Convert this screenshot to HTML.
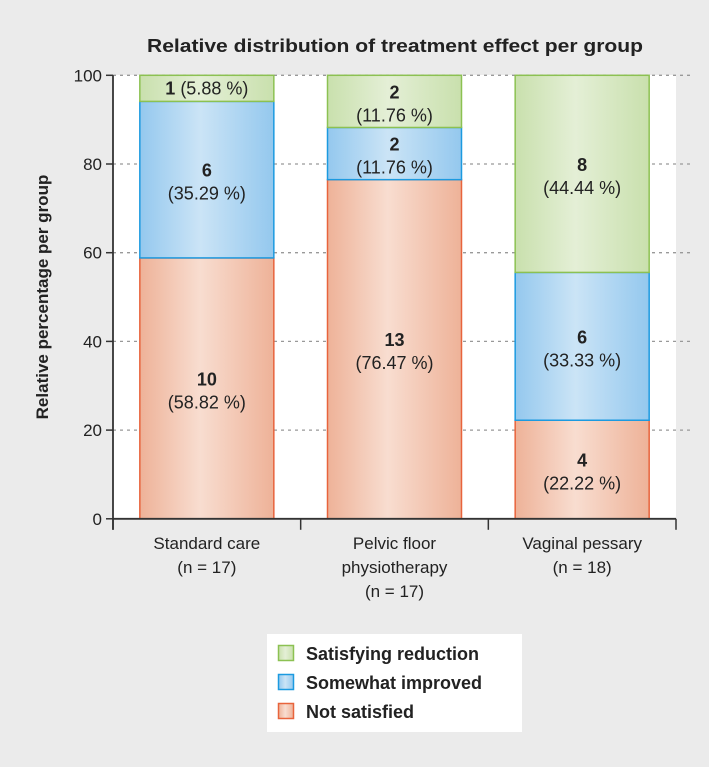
<!DOCTYPE html>
<html><head><meta charset="utf-8"><style>
html,body{margin:0;padding:0;background:#ebebeb;}
svg{display:block;font-family:"Liberation Sans",sans-serif;}
</style></head><body>
<svg id="chart" width="709" height="767" viewBox="0 0 709 767">
<defs>
<linearGradient id="gG" x1="0" x2="1"><stop offset="0" stop-color="#c9e0ad"/><stop offset="0.45" stop-color="#e4efd6"/><stop offset="1" stop-color="#c9e0ad"/></linearGradient>
<linearGradient id="gB" x1="0" x2="1"><stop offset="0" stop-color="#94c8ee"/><stop offset="0.45" stop-color="#cbe4f6"/><stop offset="1" stop-color="#94c8ee"/></linearGradient>
<linearGradient id="gO" x1="0" x2="1"><stop offset="0" stop-color="#eeb298"/><stop offset="0.45" stop-color="#f8ddd0"/><stop offset="1" stop-color="#eeb298"/></linearGradient>
</defs>
<rect x="113" y="75" width="563" height="444" fill="#fff"/>
<text x="147" y="52" textLength="496" lengthAdjust="spacingAndGlyphs" font-size="18" font-weight="bold" fill="#222">Relative distribution of treatment effect per group</text>
<text transform="translate(48,297) rotate(-90)" text-anchor="middle" font-size="17" font-weight="bold" fill="#222">Relative percentage per group</text>
<g id="grid"></g><g id="bars"></g><g id="axes"></g>
<rect x="267" y="634" width="255" height="98" fill="#fff"/>
<g><rect x="278.5" y="645.5" width="15" height="15" fill="url(#gG)" stroke="#8cc152" stroke-width="1.5"/><text x="306" y="660" font-size="18" font-weight="bold" fill="#222">Satisfying reduction</text></g>
<g><rect x="278.5" y="674.5" width="15" height="15" fill="url(#gB)" stroke="#1c9ae0" stroke-width="1.5"/><text x="306" y="689" font-size="18" font-weight="bold" fill="#222">Somewhat improved</text></g>
<g><rect x="278.5" y="703.5" width="15" height="15" fill="url(#gO)" stroke="#e8643c" stroke-width="1.5"/><text x="306" y="718" font-size="18" font-weight="bold" fill="#222">Not satisfied</text></g>
</svg>
<script>
const categories=[["Standard care","(n = 17)"],["Pelvic floor","physiotherapy","(n = 17)"],["Vaginal pessary","(n = 18)"]];
const notSatisfied=[10,13,4];
const somewhat=[6,2,6];
const satisfying=[1,2,8];
const notSatisfiedPct=["58.82","76.47","22.22"];
const somewhatPct=["35.29","11.76","33.33"];
const satisfyingPct=["5.88","11.76","44.44"];
const yTicks=[0,20,40,60,80,100];

const NS="http://www.w3.org/2000/svg";
const X0=113,X1=676,Y0=518.8,Y100=75.3;
const y=v=>Y0-(Y0-Y100)*v/100;
const bw=(X1-X0)/categories.length;
const barW=134;
const bx=i=>X0+bw*i+(bw-barW)/2;
function mk(tag,attrs,parent){const e=document.createElementNS(NS,tag);for(const k in attrs)e.setAttribute(k,attrs[k]);parent.appendChild(e);return e;}
const grid=document.getElementById('grid'),bars=document.getElementById('bars'),axes=document.getElementById('axes');
yTicks.forEach(t=>{
 if(t>0){const l=mk('line',{x1:X0,x2:X1+14,y1:y(t),y2:y(t),stroke:'#999','stroke-width':1.3,'stroke-dasharray':'3,4'},grid);
 
 }
 const tk=mk('line',{x1:X0-7,x2:X0,y1:y(t),y2:y(t),stroke:'#333','stroke-width':1.5},axes);
 
 
 const tx=mk('text',{x:X0-11,y:y(t)+6,'text-anchor':'end','font-size':17,fill:'#222'},axes);tx.textContent=t;
 
 
});
const series=[[notSatisfied,notSatisfiedPct,'url(#gO)','#e8643c','not-satisfied'],[somewhat,somewhatPct,'url(#gB)','#1c9ae0','somewhat-improved'],[satisfying,satisfyingPct,'url(#gG)','#8cc152','satisfying-reduction']];
categories.forEach((c,i)=>{
 const tot=notSatisfied[i]+somewhat[i]+satisfying[i];
 let acc=0;
 series.forEach(s=>{
  const v=s[0][i]/tot*100;
  const top=y(acc+v),bot=y(acc);
  const r=mk('rect',{x:bx(i),y:top,width:barW,height:bot-top,fill:s[2],stroke:s[3],'stroke-width':1.5},bars);
  
  
  const cx=bx(i)+barW/2,cy=(top+bot)/2,h=bot-top;
  const t=mk('text',{'text-anchor':'middle','font-size':18,fill:'#222'},bars);
  
  
  if(h<40){t.setAttribute('x',cx);t.setAttribute('y',cy+6);
   const a=mk('tspan',{'font-weight':'bold'},t);a.textContent=s[0][i]+' ';
   const b=mk('tspan',{},t);b.textContent='('+s[1][i]+' %)';}
  else{const a=mk('tspan',{x:cx,y:cy-3,'font-weight':'bold'},t);a.textContent=s[0][i];
   const b=mk('tspan',{x:cx,y:cy+20},t);b.textContent='('+s[1][i]+' %)';}
  acc+=v;
 });
 c.forEach((ln,j)=>{const t=mk('text',{x:X0+bw*(i+0.5),y:549+j*24,'text-anchor':'middle','font-size':17,fill:'#222'},axes);t.textContent=ln;
  
  });
});
for(let i=0;i<=categories.length;i++){const l=mk('line',{x1:X0+bw*i,x2:X0+bw*i,y1:Y0,y2:Y0+11,stroke:'#333','stroke-width':1.5},axes);
 
 }
const xa=mk('line',{x1:X0,x2:X1,y1:Y0,y2:Y0,stroke:'#333','stroke-width':1.8},axes);


const ya=mk('line',{x1:X0,x2:X0,y1:Y100,y2:Y0+11,stroke:'#333','stroke-width':1.8},axes);


</script>
</body></html>
